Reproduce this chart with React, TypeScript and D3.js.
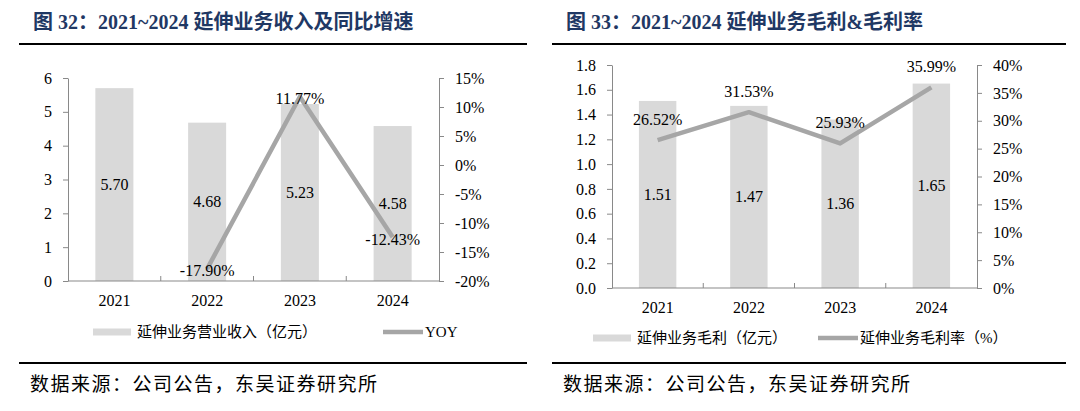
import React, { useEffect, useRef } from 'react';
import * as d3 from 'd3';

// chart data
const years = ['2021', '2022', '2023', '2024'];
const revenue = [5.70, 4.68, 5.23, 4.58];
const yoy: (number | null)[] = [null, -17.90, 11.77, -12.43];
const grossProfit = [1.51, 1.47, 1.36, 1.65];
const grossMargin: (number | null)[] = [26.52, 31.53, 25.93, 35.99];

const revenueTicks = [0, 1, 2, 3, 4, 5, 6];
const yoyTicks = [-20, -15, -10, -5, 0, 5, 10, 15];
const profitTicks = [0, 0.2, 0.4, 0.6, 0.8, 1.0, 1.2, 1.4, 1.6, 1.8];
const marginTicks = [0, 5, 10, 15, 20, 25, 30, 35, 40];

const serif = "'Liberation Serif', 'Times New Roman', 'Noto Sans CJK SC', serif";
const AXIS = '#898989';
const BAR = '#D9D9D9';
const LINE = '#A6A6A6';

interface Panel {
    title: string;
    titleX: number;
    ruleX1: number;
    ruleX2: number;
    left: number;
    right: number;
    top: number;
    bottom: number;
    bars: number[];
    line: (number | null)[];
    leftDomain: [number, number];
    rightDomain: [number, number];
    leftTicks: number[];
    rightTicks: number[];
    leftFmt: (d: number) => string;
    yearY: number;
    lineLabelDy: number;
    legY: number;
    legRectX: number;
    legLineX: number;
    barName: string;
    lineName: string;
    sourceX: number;
}

function drawPanel(svg: d3.Selection<SVGSVGElement, unknown, null, undefined>, p: Panel) {
    const g = svg.append('g');

    // title + rule
    g.append('text')
        .attr('x', p.titleX).attr('y', 29)
        .attr('font-size', 20).attr('font-weight', 'bold')
        .attr('fill', '#1F3864').attr('font-family', serif)
        .text(p.title);
    g.append('line')
        .attr('x1', p.ruleX1).attr('x2', p.ruleX2).attr('y1', 44).attr('y2', 44)
        .attr('stroke', '#000').attr('stroke-width', 2);

    const x = d3.scaleBand<string>().domain(years).range([p.left, p.right]);
    const yL = d3.scaleLinear().domain(p.leftDomain).range([p.bottom, p.top]);
    const yR = d3.scaleLinear().domain(p.rightDomain).range([p.bottom, p.top]);
    const bw = x.bandwidth() * 0.41;
    const cx = (d: string) => (x(d) || 0) + x.bandwidth() / 2;

    // bars
    g.append('g').selectAll('rect')
        .data(p.bars)
        .join('rect')
        .attr('x', (_, i) => cx(years[i]) - bw / 2)
        .attr('y', d => yL(d))
        .attr('width', bw)
        .attr('height', d => p.bottom - yL(d))
        .attr('fill', BAR);

    g.append('g').selectAll('text')
        .data(p.bars)
        .join('text')
        .attr('x', (_, i) => cx(years[i]))
        .attr('y', d => (yL(d) + p.bottom) / 2)
        .attr('text-anchor', 'middle')
        .attr('dominant-baseline', 'central')
        .attr('font-size', 16).attr('font-family', serif)
        .text(d => d.toFixed(2));

    // left axis
    g.append('g')
        .attr('transform', `translate(${p.left},0)`)
        .call(d3.axisLeft(yL).tickValues(p.leftTicks).tickFormat(d => p.leftFmt(+d)).tickSize(5).tickSizeOuter(0).tickPadding(11))
        .call(a => a.select('.domain').attr('stroke', AXIS))
        .call(a => a.selectAll('.tick line').attr('stroke', AXIS))
        .call(a => a.selectAll('.tick text').attr('fill', '#000').attr('font-size', 16).attr('font-family', serif));

    // right axis
    g.append('g')
        .attr('transform', `translate(${p.right},0)`)
        .call(d3.axisRight(yR).tickValues(p.rightTicks).tickFormat(d => `${d}%`).tickSize(5).tickSizeOuter(0).tickPadding(11))
        .call(a => a.select('.domain').attr('stroke', AXIS))
        .call(a => a.selectAll('.tick line').attr('stroke', AXIS))
        .call(a => a.selectAll('.tick text').attr('fill', '#000').attr('font-size', 16).attr('font-family', serif));

    // category axis: baseline with inward ticks at band edges
    g.append('line')
        .attr('x1', p.left).attr('x2', p.right).attr('y1', p.bottom).attr('y2', p.bottom)
        .attr('stroke', AXIS);
    g.append('g').selectAll('line')
        .data(years.slice(1))
        .join('line')
        .attr('x1', d => x(d) || 0).attr('x2', d => x(d) || 0)
        .attr('y1', p.bottom).attr('y2', p.bottom - 5)
        .attr('stroke', AXIS);
    g.append('g').selectAll('text')
        .data(years)
        .join('text')
        .attr('x', d => cx(d))
        .attr('y', p.yearY)
        .attr('text-anchor', 'middle')
        .attr('dominant-baseline', 'central')
        .attr('font-size', 16).attr('font-family', serif)
        .text(d => d);

    // line series
    const line = d3.line<number | null>()
        .defined(d => d != null)
        .x((_, i) => cx(years[i]))
        .y(d => yR(d as number));
    g.append('path')
        .datum(p.line)
        .attr('d', line)
        .attr('fill', 'none')
        .attr('stroke', LINE)
        .attr('stroke-width', 4.5)
        .attr('stroke-linejoin', 'round');

    g.append('g').selectAll('text')
        .data(p.line.map((v, i) => ({ v, i })).filter(d => d.v != null))
        .join('text')
        .attr('x', d => cx(years[d.i]))
        .attr('y', d => yR(d.v as number) + p.lineLabelDy)
        .attr('text-anchor', 'middle')
        .attr('dominant-baseline', 'central')
        .attr('font-size', 16).attr('font-family', serif)
        .text(d => `${(d.v as number).toFixed(2)}%`);

    // legend
    g.append('rect')
        .attr('x', p.legRectX).attr('y', p.legY - 3.5)
        .attr('width', 38).attr('height', 7)
        .attr('fill', BAR);
    g.append('text')
        .attr('x', p.legRectX + 44).attr('y', p.legY)
        .attr('dominant-baseline', 'central')
        .attr('font-size', 15).attr('font-family', serif)
        .text(p.barName);
    g.append('line')
        .attr('x1', p.legLineX).attr('x2', p.legLineX + 40)
        .attr('y1', p.legY).attr('y2', p.legY)
        .attr('stroke', LINE).attr('stroke-width', 4.5);
    g.append('text')
        .attr('x', p.legLineX + 42).attr('y', p.legY)
        .attr('dominant-baseline', 'central')
        .attr('font-size', 15).attr('font-family', serif)
        .text(p.lineName);

    // source
    g.append('line')
        .attr('x1', p.ruleX1).attr('x2', p.ruleX2).attr('y1', 363).attr('y2', 363)
        .attr('stroke', '#000').attr('stroke-width', 2);
    g.append('text')
        .attr('x', p.sourceX).attr('y', 384)
        .attr('dominant-baseline', 'central')
        .attr('font-size', 19).attr('letter-spacing', 1.5)
        .attr('font-family', serif)
        .text('数据来源：公司公告，东吴证券研究所');
}

const App: React.FC = () => {
    const ref = useRef<SVGSVGElement | null>(null);

    useEffect(() => {
        if (!ref.current) return;
        const svg = d3.select(ref.current);
        svg.selectAll('*').remove();

        drawPanel(svg, {
            title: '图 32：2021~2024 延伸业务收入及同比增速',
            titleX: 33, ruleX1: 19, ruleX2: 527,
            left: 68, right: 439, top: 78, bottom: 281,
            bars: revenue, line: yoy,
            leftDomain: [0, 6], rightDomain: [-20, 15],
            leftTicks: revenueTicks, rightTicks: yoyTicks,
            leftFmt: d => d3.format('d')(d),
            yearY: 300, lineLabelDy: 2,
            legY: 332, legRectX: 93, legLineX: 383,
            barName: '延伸业务营业收入（亿元）', lineName: 'YOY',
            sourceX: 30,
        });

        drawPanel(svg, {
            title: '图 33：2021~2024 延伸业务毛利&毛利率',
            titleX: 566, ruleX1: 552, ruleX2: 1066,
            left: 612, right: 977, top: 65, bottom: 288,
            bars: grossProfit, line: grossMargin,
            leftDomain: [0, 1.8], rightDomain: [0, 40],
            leftTicks: profitTicks, rightTicks: marginTicks,
            leftFmt: d => d3.format('.1f')(d),
            yearY: 307, lineLabelDy: -21,
            legY: 338, legRectX: 593, legLineX: 818,
            barName: '延伸业务毛利（亿元）', lineName: '延伸业务毛利率（%）',
            sourceX: 563,
        });
    }, []);

    return (
        <svg
            ref={ref}
            width={1080}
            height={411}
            viewBox="0 0 1080 411"
            style={{ position: 'absolute', left: 0, top: 0, background: '#fff' }}
        />
    );
};

export default App;
